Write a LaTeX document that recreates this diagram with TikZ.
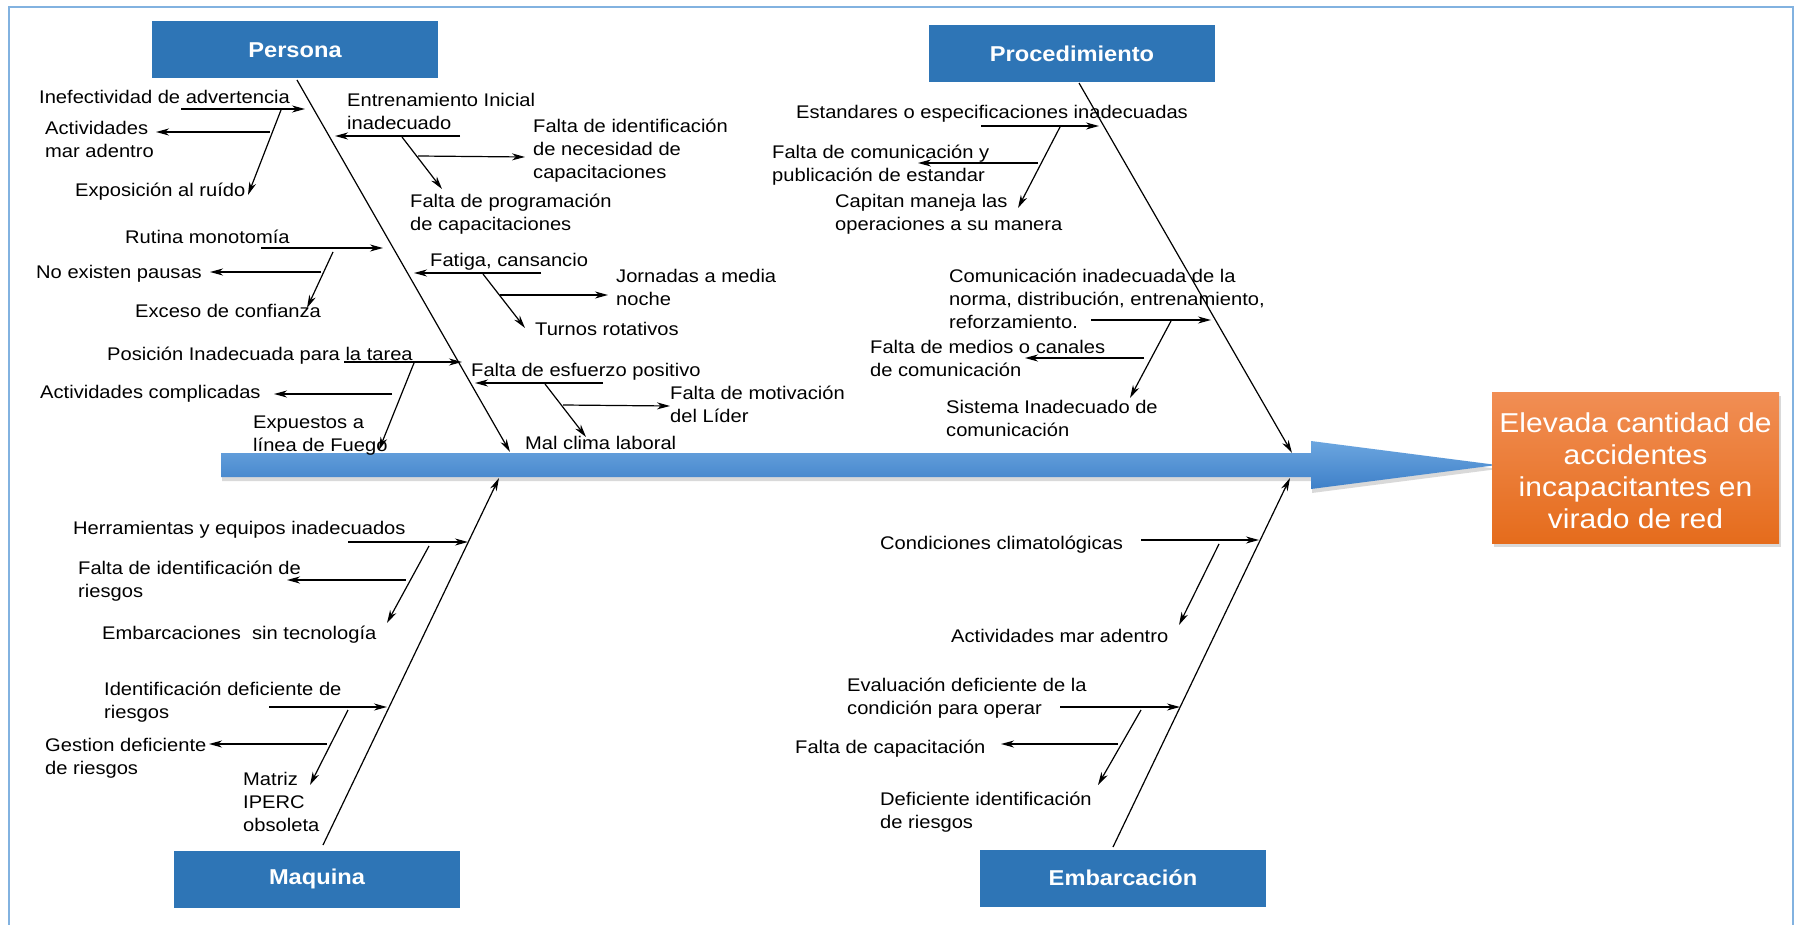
\documentclass[tikz,border=0pt]{standalone}
\usepackage{fontspec}
\setmainfont{Liberation Sans}[FakeStretch=1.1]
\usepackage{xcolor}
\usepackage{tikz}
\usetikzlibrary{arrows.meta, shadows}
\definecolor{boxblue}{RGB}{46, 117, 182}
\definecolor{frameblue}{RGB}{130, 178, 224}
\definecolor{spinetop}{RGB}{108, 166, 224}
\definecolor{spinebottom}{RGB}{62, 128, 200}
\definecolor{effecttop}{RGB}{241, 142, 84}
\definecolor{effectbottom}{RGB}{229, 108, 28}

\tikzset{
    catbox/.style={fill=boxblue, text=white, minimum width=286pt, minimum height=57pt,
        inner sep=0pt, font=\fontsize{21.5}{25}\selectfont\bfseries},
    effectbox/.style={top color=effecttop, bottom color=effectbottom, text=white,
        minimum width=287pt, minimum height=151pt, inner sep=0pt, align=center,
        font=\fontsize{27.3}{32}\selectfont,
        drop shadow={shadow xshift=2pt, shadow yshift=-4pt, opacity=0.3}},
    cause/.style={anchor=base west, inner sep=0pt, align=left, font=\fontsize{18.3}{23}\selectfont},
    bone/.style={line width=1.2pt, -{Stealth[length=13pt, width=7pt, inset=4pt]}},
    twig/.style={line width=1.2pt, -{Stealth[length=13pt, width=7pt, inset=4pt]}}
}

\begin{document}
\begin{tikzpicture}[x=1pt, y=-1pt]
    \useasboundingbox (0,0) rectangle (1796,925);
    \draw[frameblue, line width=2pt] (9,7) rectangle (1793,940);

    % spine
    \path[top color=spinetop, bottom color=spinebottom,
          drop shadow={shadow xshift=1pt, shadow yshift=-4pt, opacity=0.3}]
        (221,453) -- (1311,453) -- (1311,441) -- (1497,465) -- (1311,489) -- (1311,477) -- (221,477) -- cycle;

    \node[effectbox] (effect) at (1635.5,467.5) {\rule{0pt}{26pt}Elevada cantidad de\\accidentes\\incapacitantes en\\virado de red};

    % categories
    \node[catbox] (persona) at (295,50) {Persona};
    \node[catbox] (proced) at (1072,54) {Procedimiento};
    \node[catbox] (maquina) at (317,879) {Maquina};
    \node[catbox] (embarc) at (1123,878) {Embarcación};

    % bones
    \coordinate (perA) at (297,80);    \coordinate (perB) at (510,452);
    \coordinate (proA) at (1079,83);   \coordinate (proB) at (1292,453);
    \coordinate (maqA) at (323,845);   \coordinate (maqB) at (499,478);
    \coordinate (embA) at (1113,847);  \coordinate (embB) at (1290,478);
    \draw[bone] (perA) -- (perB);
    \draw[bone] (proA) -- (proB);
    \draw[bone] (maqA) -- (maqB);
    \draw[bone] (embA) -- (embB);

    % Persona (multi-line texts sit on their last baseline)
    \node[cause] (inefect) at (39,103.5) {Inefectividad de advertencia};
    \node[cause] (actmar) at (45,157.5) {Actividades\\mar adentro};
    \node[cause] (ruido) at (75,196.5) {Exposición al ruído};
    \node[cause] (entren) at (347,130) {Entrenamiento Inicial\\inadecuado};
    \node[cause] (faltaid) at (533,178.5) {Falta de identificación\\de necesidad de\\capacitaciones};
    \node[cause] (faltaprog) at (410,230.5) {Falta de programación\\de capacitaciones};
    \node[cause] (rutina) at (125,243.5) {Rutina monotomía};
    \node[cause] (pausas) at (36,278.5) {No existen pausas};
    \node[cause] (exceso) at (135,317.5) {Exceso de confianza};
    \node[cause] (fatiga) at (430,266.5) {Fatiga, cansancio};
    \node[cause] (jornadas) at (616,305.5) {Jornadas a media\\noche};
    \node[cause] (turnos) at (535,335.5) {Turnos rotativos};
    \node[cause] (posicion) at (107,360.5) {Posición Inadecuada para la tarea};
    \node[cause] (complic) at (40,398.5) {Actividades complicadas};
    \node[cause] (expuestos) at (253,451.5) {Expuestos a\\línea de Fuego};
    \node[cause] (esfuerzo) at (471,376.5) {Falta de esfuerzo positivo};
    \node[cause] (motiv) at (670,422.5) {Falta de motivación\\del Líder};
    \node[cause] (malclima) at (525,449.5) {Mal clima laboral};

    \coordinate (p1a) at (181,109); \coordinate (p1b) at (305,109); \coordinate (p1c) at (281,110);
    \coordinate (p1d) at (248,195); \coordinate (p1e) at (270,132); \coordinate (p1f) at (156,132);
    \coordinate (p2a) at (460,136); \coordinate (p2b) at (335,136); \coordinate (p2c) at (402,137);
    \coordinate (p2d) at (442,189); \coordinate (p2e) at (418,156); \coordinate (p2f) at (525,157);
    \coordinate (p3a) at (261,248); \coordinate (p3b) at (383,248); \coordinate (p3c) at (333,252);
    \coordinate (p3d) at (307,308); \coordinate (p3e) at (321,272); \coordinate (p3f) at (210,272);
    \coordinate (p4a) at (541,273); \coordinate (p4b) at (414,273); \coordinate (p4c) at (483,274);
    \coordinate (p4d) at (525,328); \coordinate (p4e) at (500,295); \coordinate (p4f) at (608,295);
    \coordinate (p5a) at (344,362); \coordinate (p5b) at (462,362); \coordinate (p5c) at (414,363);
    \coordinate (p5d) at (379,450); \coordinate (p5e) at (392,394); \coordinate (p5f) at (274,394);
    \coordinate (p6a) at (603,383); \coordinate (p6b) at (475,383); \coordinate (p6c) at (545,384);
    \coordinate (p6d) at (586,437); \coordinate (p6e) at (563,405); \coordinate (p6f) at (670,406);

    % Procedimiento
    \node[cause] (estandar) at (796,118.5) {Estandares o especificaciones inadecuadas};
    \node[cause] (comunic) at (772,181.5) {Falta de comunicación y\\publicación de estandar};
    \node[cause] (capitan) at (835,230.5) {Capitan maneja las\\operaciones a su manera};
    \node[cause] (norma) at (949,328.5) {Comunicación inadecuada de la\\norma, distribución, entrenamiento,\\reforzamiento.};
    \node[cause] (medios) at (870,376.5) {Falta de medios o canales\\de comunicación};
    \node[cause] (sistema) at (946,436.5) {Sistema Inadecuado de\\comunicación};

    \coordinate (q1a) at (981,126);  \coordinate (q1b) at (1099,126); \coordinate (q1c) at (1060,127);
    \coordinate (q1d) at (1018,208); \coordinate (q1e) at (1038,163); \coordinate (q1f) at (918,163);
    \coordinate (q2a) at (1091,320); \coordinate (q2b) at (1211,320); \coordinate (q2c) at (1171,321);
    \coordinate (q2d) at (1130,398); \coordinate (q2e) at (1144,358); \coordinate (q2f) at (1025,358);

    % Maquina
    \node[cause] (herram) at (73,534.5) {Herramientas y equipos inadecuados};
    \node[cause] (riesgos) at (78,597.5) {Falta de identificación de\\riesgos};
    \node[cause] (tecno) at (102,639.5) {Embarcaciones\ \ sin tecnología};
    \node[cause] (identdef) at (104,718.5) {Identificación deficiente de\\riesgos};
    \node[cause] (gestion) at (45,774.5) {Gestion deficiente\\de riesgos};
    \node[cause] (matriz) at (243,831.5) {Matriz\\IPERC\\obsoleta};

    \coordinate (m1a) at (348,542); \coordinate (m1b) at (468,542); \coordinate (m1c) at (429,546);
    \coordinate (m1d) at (387,623); \coordinate (m1e) at (406,580); \coordinate (m1f) at (287,580);
    \coordinate (m2a) at (269,707); \coordinate (m2b) at (387,707); \coordinate (m2c) at (348,710);
    \coordinate (m2d) at (310,785); \coordinate (m2e) at (327,744); \coordinate (m2f) at (209,744);

    % Embarcacion
    \node[cause] (condic) at (880,549.5) {Condiciones climatológicas};
    \node[cause] (actmar2) at (951,642.5) {Actividades mar adentro};
    \node[cause] (evalua) at (847,714.5) {Evaluación deficiente de la\\condición para operar};
    \node[cause] (capac) at (795,753) {Falta de capacitación};
    \node[cause] (defid) at (880,828.5) {Deficiente identificación\\de riesgos};

    \coordinate (e1a) at (1141,540); \coordinate (e1b) at (1259,540); \coordinate (e1c) at (1219,544);
    \coordinate (e1d) at (1179,625);
    \coordinate (e2a) at (1060,707); \coordinate (e2b) at (1180,707); \coordinate (e2c) at (1141,710);
    \coordinate (e2d) at (1098,785); \coordinate (e2e) at (1118,744); \coordinate (e2f) at (1001,744);

    % twigs
    \foreach \g in {p1,p2,p3,p4,p5,p6,q1,q2,m1,m2,e2} {
        \draw[twig] (\g a) -- (\g b);
        \draw[twig] (\g c) -- (\g d);
        \draw[twig] (\g e) -- (\g f);
    }
    \draw[twig] (e1a) -- (e1b);
    \draw[twig] (e1c) -- (e1d);
\end{tikzpicture}
\end{document}
